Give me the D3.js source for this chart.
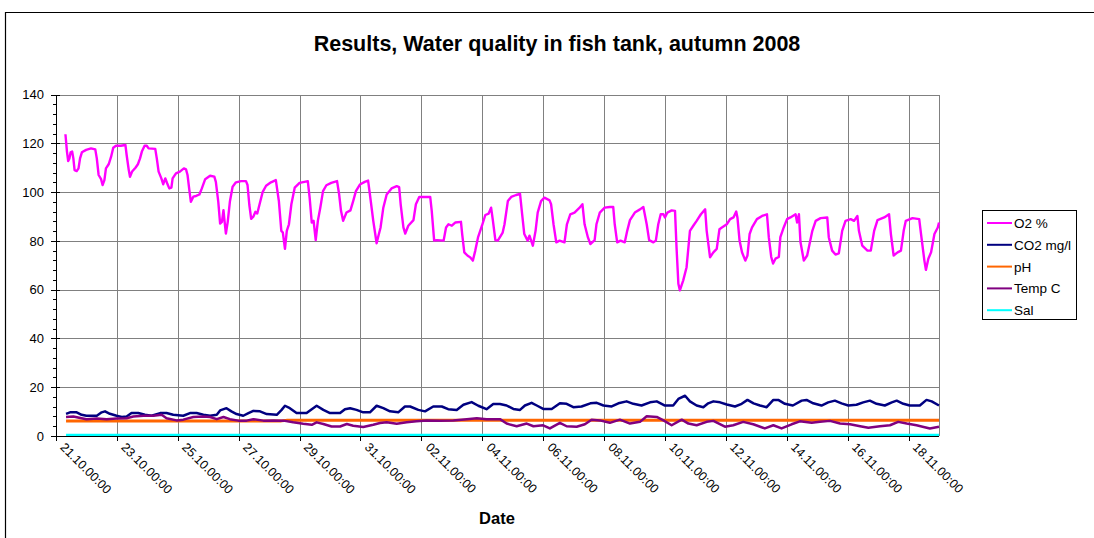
<!DOCTYPE html>
<html>
<head>
<meta charset="utf-8">
<script src="https://cdn.jsdelivr.net/npm/d3@7"></script>
<style>
  html, body { margin: 0; padding: 0; background: #fff; }
  svg { display: block; font-family: "Liberation Sans", Arial, sans-serif; }
</style>
</head>
<body>
<svg id="chart" width="1094" height="538"></svg>
<script>
// ---------- DATA ----------
const startDate = "2008-10-21T00:00:00Z";
const endDate = "2008-11-19T00:00:00Z";
const tickLabels = ["21.10.00:00","23.10.00:00","25.10.00:00","27.10.00:00","29.10.00:00","31.10.00:00",
  "02.11.00:00","04.11.00:00","06.11.00:00","08.11.00:00","10.11.00:00","12.11.00:00","14.11.00:00",
  "16.11.00:00","18.11.00:00"];
const tickDays = [0,2,4,6,8,10,12,14,16,18,20,22,24,26,28];
const yTicks = [0,20,40,60,80,100,120,140];
const seriesNames = ["O2 %","CO2 mg/l","pH","Temp C","Sal"];

// O2 % (days after 21.10 00:00, value)
const o2Days = [0.31,0.36,0.40,0.44,0.48,0.53,0.57,0.61,0.68,0.74,0.79,0.85,0.99,1.15,1.29,1.34,1.40,1.48,1.53,1.59,
  1.64,1.73,1.81,1.88,1.97,2.13,2.28,2.32,2.39,2.43,2.50,2.61,2.69,2.76,2.82,2.91,2.98,3.04,3.26,3.31,
  3.37,3.46,3.52,3.59,3.65,3.72,3.79,3.83,3.94,4.07,4.20,4.27,4.32,4.38,4.43,4.51,4.60,4.71,4.79,4.90,
  5.06,5.20,5.25,5.33,5.39,5.45,5.50,5.55,5.58,5.64,5.71,5.80,5.91,6.08,6.24,6.29,6.35,6.41,6.48,6.55,
  6.61,6.68,6.79,6.90,7.06,7.22,7.32,7.40,7.45,7.52,7.58,7.65,7.73,7.84,8.00,8.16,8.27,8.33,8.40,8.46,
  8.53,8.60,8.68,8.77,8.88,9.04,9.23,9.30,9.36,9.43,9.54,9.67,9.76,9.85,9.98,10.14,10.25,10.31,10.42,10.53,
  10.59,10.66,10.75,10.86,11.02,11.19,11.27,11.32,11.41,11.47,11.57,11.74,11.82,11.93,12.07,12.29,12.34,12.42,12.51,12.73,
  12.81,12.89,13.00,13.11,13.30,13.34,13.41,13.52,13.60,13.69,13.77,13.86,13.99,14.10,14.21,14.29,14.35,14.43,14.51,14.67,
  14.73,14.84,14.95,15.11,15.24,15.31,15.38,15.49,15.55,15.66,15.75,15.82,15.93,16.04,16.21,16.26,16.34,16.43,16.54,16.70,
  16.78,16.89,17.03,17.18,17.29,17.36,17.47,17.55,17.69,17.75,17.86,18.02,18.19,18.30,18.35,18.43,18.54,18.68,18.76,18.85,
  19.01,19.18,19.29,19.40,19.48,19.62,19.70,19.78,19.86,19.95,20.00,20.08,20.22,20.33,20.38,20.44,20.49,20.60,20.71,20.82,
  20.93,21.04,21.18,21.32,21.37,21.48,21.59,21.70,21.79,21.87,22.03,22.14,22.25,22.34,22.38,22.45,22.53,22.64,22.71,22.78,
  22.86,23.02,23.19,23.35,23.41,23.49,23.55,23.63,23.74,23.79,23.90,24.01,24.12,24.29,24.34,24.40,24.45,24.56,24.67,24.84,
  24.95,25.11,25.33,25.38,25.49,25.60,25.71,25.82,25.93,26.10,26.21,26.32,26.37,26.48,26.65,26.76,26.87,26.98,27.20,27.36,
  27.42,27.51,27.64,27.75,27.84,27.91,28.13,28.35,28.41,28.52,28.57,28.65,28.74,28.85,28.96,29.0];
const o2Values = [123.7,116.6,112.7,113.8,116.3,116.6,113.8,109,108.6,109.7,113.8,116.3,117.3,117.9,117.5,113.8,107,105.3,102.9,104.9,
  109.7,111.4,114.5,118.2,119,119,119.3,115.2,109,106.3,108.4,110,111.4,113.8,116.6,119,119,117.9,117.7,113.8,
  108.4,105.6,103.2,105.6,103.6,101.5,101.8,105.6,107.7,108.4,109.7,109.3,107,100.8,96,98.1,98.4,99,101.5,105.3,
  106.7,106.3,104.2,96,87.1,87.8,92.6,86.4,83,87.8,96,102.2,104,104.5,104.5,102.9,94.7,89,89.9,91.9,
  91.2,94.7,100.1,102.6,104,104.9,96.3,84.1,83.4,76.7,84.1,86.8,95,101.8,103.8,104.2,104.5,97.7,87.5,88.2,
  80.3,88.2,93.6,100.4,102.8,103.8,104.5,99,92.3,88.2,91.6,92.5,96.3,100.4,103.1,104.2,104.7,99,88.2,79,
  82.1,85.5,93.6,99,101.5,102.4,102,95,85.5,83,86.2,88.5,95,98,98,98,92.3,80.1,80.3,80.1,
  85.5,86.8,86.2,87.5,87.8,82.8,75.3,73.9,73.3,71.9,76,81.4,86.2,90.6,91.2,93.6,88.2,80.3,80.1,83.4,
  86.8,96.3,98,98.8,99.3,90.9,82.8,80.1,82.1,78,84.1,91.6,96.3,97.7,96.6,95,86.8,79.4,80.1,79.4,
  86.8,90.9,91.6,93.4,95,86.8,81.4,78.7,80.3,86.8,91.6,93.6,93.9,93.9,86.8,79.4,80.1,79.4,84.1,88.5,
  91.6,92.9,93.9,86.8,80.3,79.4,80.1,86.8,90.9,90.9,89.6,91.6,92.5,92.3,77.3,62.4,59.7,63.8,69.2,84.1,
  86.2,88.2,90.9,92.9,84.1,73.3,75.3,76.7,84.8,85.5,86.8,88.9,89.6,92,89.6,80.1,75.3,71.9,74,82.8,
  85.5,88.9,90.2,90.9,81.5,73.4,70.7,72.7,73.4,81.5,85.5,88.9,89.6,90.9,87.5,90.9,79.5,71.9,74,84.1,
  88.2,89.3,89.6,81.5,76,74.4,74.9,84.1,88.2,88.9,88.2,90.2,84.1,78,76,76,84.1,88.5,89.6,90.9,
  82.8,74,75.3,76,84.1,88.2,89.3,88.9,82.8,71.9,68.1,72.7,75.3,82.8,85.5,87.5];

// CO2 mg/l
const co2Days = [0.33,0.46,0.68,0.84,1.0,1.34,1.5,1.61,1.77,1.99,2.16,2.32,2.48,2.70,2.92,3.14,3.42,3.63,3.85,4.18,
  4.40,4.62,4.84,5.06,5.28,5.39,5.6,5.76,5.93,6.15,6.32,6.48,6.70,6.92,7.25,7.41,7.52,7.68,7.90,8.23,
  8.40,8.56,8.78,9.0,9.33,9.49,9.66,9.87,10.09,10.31,10.53,10.75,10.97,11.24,11.46,11.63,11.9,12.12,12.39,12.67,
  12.88,13.16,13.38,13.65,13.87,14.14,14.36,14.58,14.8,15.02,15.24,15.40,15.62,15.79,16.0,16.28,16.55,16.77,16.99,17.26,
  17.55,17.76,17.98,18.25,18.47,18.74,18.96,19.23,19.51,19.73,20.0,20.27,20.44,20.66,20.82,21.04,21.26,21.42,21.59,21.81,
  22.03,22.30,22.52,22.71,22.91,23.12,23.34,23.56,23.72,23.94,24.2,24.49,24.65,24.87,25.14,25.36,25.58,25.80,26.02,26.29,
  26.51,26.73,26.95,27.22,27.45,27.61,27.83,28.04,28.37,28.59,28.76,29.0];
const co2Values = [9.1,9.7,9.7,8.7,8.3,8.3,9.7,10.1,9.1,8.3,7.8,8,9.4,9.4,8.7,8.3,9.4,9.4,8.7,8.3,
  9.4,9.4,8.7,8.3,8.7,10.5,11.4,10.1,9,8.3,9.4,10.3,10.1,9,8.7,10.7,12.4,11.4,9.4,9.4,
  11,12.4,10.7,9.4,9.4,11,11.4,10.7,9.7,9.7,12.4,11.4,10.1,9.7,12.1,12.1,10.7,10.1,12.1,12.1,
  11,10.7,12.8,13.9,12.4,11,13.1,13.1,12.5,11.1,10.7,12.5,13.6,12.5,11.1,11.1,13.4,13.2,11.8,12.1,
  13.4,13.6,12.5,12.1,13.4,14.2,13.2,12.5,13.8,14.2,12.5,12.5,15.2,16.5,14.2,12.5,11.8,13.4,14.2,13.8,
  12.9,12.1,13.2,14.8,13.4,12.5,11.8,14.8,14.8,13.2,12.5,14.5,14.8,13.4,12.5,13.8,14.5,13.4,12.5,12.8,
  13.8,14.5,13.2,12.5,13.8,14.5,13.2,12.5,12.5,14.8,14.2,12.5];

// pH
const phDays = [0.33,7.4,7.6,29.0];
const phValues = [6.2,6.2,6.5,6.5];

// Temp C
const tempDays = [0.33,0.57,0.84,1.0,1.34,1.66,1.99,2.32,2.54,2.87,3.2,3.47,3.63,3.96,4.18,4.51,4.84,5.06,5.28,5.5,
  5.71,5.99,6.26,6.48,6.81,7.14,7.47,7.79,8.12,8.40,8.56,8.78,9.05,9.33,9.55,9.76,10.09,10.42,10.64,10.86,
  11.19,11.52,11.84,12.17,12.61,13.05,13.49,13.82,14.14,14.58,14.8,15.13,15.46,15.68,16.0,16.22,16.55,16.77,17.1,17.37,
  17.59,17.86,18.19,18.52,18.85,19.18,19.4,19.73,19.95,20.22,20.55,20.77,21.04,21.37,21.59,21.97,22.24,22.57,22.9,23.28,
  23.56,23.83,24.16,24.43,24.82,25.09,25.42,25.75,26.08,26.41,26.68,27.06,27.39,27.66,27.94,28.26,28.7,29.0];
const tempValues = [7.8,8,7.3,6.9,7.2,6.9,7.2,7.3,8,8.3,8.3,8.7,7.3,6.4,6.7,7.8,8,7.8,6.9,7.8,
  6.9,6.3,6.3,6.9,6.3,6.4,6.3,5.6,5,4.6,5.6,4.9,3.9,3.9,4.9,4.2,3.7,4.6,5.3,5.6,
  5,5.6,6,6.4,6.3,6.4,6.9,7.3,6.9,6.9,5.1,4,5.1,4,4.4,3.1,5.4,4,3.8,4.8,
  6.7,6.4,5.4,6.7,5.1,5.8,8.1,7.8,6.4,4.4,6.7,5.1,4.4,5.8,6.2,3.8,4.4,5.8,4.8,3.1,
  4.4,3.1,4.8,6,5.4,5.8,6.2,5.1,4.8,4,3.4,4,4.4,5.8,5.1,4.4,3.1,3.8];

// Sal
const salDays = [0.33,10,20,29.0];
const salValues = [0.3,0.3,0.3,0.3];

const seriesColors = ["#FF00FF","#000080","#FF6600","#800080","#00FFFF"];

// ---------- CHART ----------
const svg = d3.select("#chart");
const W = 1094, H = 538;
const plot = {left: 56, right: 939, top: 94.5, bottom: 436};

const t0 = new Date(startDate), t1 = new Date(endDate);
const dayToDate = d => new Date(t0.getTime() + d * 864e5);

const x = d3.scaleUtc().domain([t0, t1]).range([plot.left, plot.right]);
const y = d3.scaleLinear().domain([0, 140]).range([plot.bottom, plot.top]);

// outer chart border (cropped)
svg.append("path").attr("d", `M5.5,${H} V12.5 H${W}`).attr("fill", "none")
  .attr("stroke", "#000").attr("stroke-width", 1.2);

// title
svg.append("text").attr("x", 557).attr("y", 51).attr("text-anchor", "middle")
  .attr("font-size", 21.5).attr("font-weight", "bold").attr("fill", "#000")
  .text("Results, Water quality in fish tank, autumn 2008");

const tickDates = tickDays.map(dayToDate);

// gridlines
svg.append("g").attr("transform", `translate(0,${plot.top})`)
  .call(d3.axisTop(x).tickValues(tickDates.slice(1)).tickSize(-(plot.bottom - plot.top)).tickFormat(""))
  .call(g => g.select(".domain").remove())
  .call(g => g.selectAll("line").attr("stroke", "#808080").attr("stroke-width", 1).attr("shape-rendering", "crispEdges"));
svg.append("g").attr("transform", `translate(${plot.left},0)`)
  .call(d3.axisLeft(y).tickValues(yTicks.slice(1)).tickSize(-(plot.right - plot.left)).tickFormat(""))
  .call(g => g.select(".domain").remove())
  .call(g => g.selectAll("line").attr("stroke", "#808080").attr("stroke-width", 1).attr("shape-rendering", "crispEdges"));
// right border of plot
svg.append("line").attr("x1", plot.right).attr("x2", plot.right).attr("y1", plot.top).attr("y2", plot.bottom)
  .attr("stroke", "#808080").attr("shape-rendering", "crispEdges");

// series
const allSeries = [
  {days: o2Days, vals: o2Values, w: 2.4},
  {days: co2Days, vals: co2Values, w: 2.5},
  {days: phDays, vals: phValues, w: 3},
  {days: tempDays, vals: tempValues, w: 2.5},
  {days: salDays, vals: salValues, w: 3}
];
const line = d3.line().x(d => x(d[0])).y(d => y(d[1]));
allSeries.forEach((s, i) => {
  const pts = s.days.map((d, k) => [dayToDate(d), s.vals[k]]);
  svg.append("path").datum(pts).attr("d", line).attr("fill", "none")
    .attr("stroke", seriesColors[i]).attr("stroke-width", s.w).attr("stroke-linejoin", "round");
});

// y axis
const yAxisG = svg.append("g").attr("transform", `translate(${plot.left},0)`)
  .call(d3.axisLeft(y).tickValues(yTicks).tickSize(5).tickPadding(7));
yAxisG.select(".domain").attr("d", `M0,${plot.top}V${plot.bottom}`).attr("stroke", "#000").attr("shape-rendering", "crispEdges");
yAxisG.selectAll(".tick line").attr("x1", 4).attr("x2", -5).attr("stroke", "#000").attr("shape-rendering", "crispEdges");
yAxisG.selectAll(".tick text").attr("font-size", 13).attr("font-family", "Liberation Sans, Arial, sans-serif").attr("fill", "#000");
// y minor ticks
const yMinor = d3.range(0, 141, 4).filter(v => v % 20 !== 0);
svg.append("g").attr("transform", `translate(${plot.left},0)`)
  .call(d3.axisLeft(y).tickValues(yMinor).tickSize(3).tickFormat(""))
  .call(g => g.select(".domain").remove())
  .call(g => g.selectAll("line").attr("stroke", "#000").attr("shape-rendering", "crispEdges"));

// x axis
const xAxisG = svg.append("g").attr("transform", `translate(0,${plot.bottom})`)
  .call(d3.axisBottom(x).tickValues(tickDates).tickSize(5).tickFormat((d, i) => tickLabels[i]));
xAxisG.select(".domain").attr("d", `M${plot.left},0H${plot.right}`).attr("stroke", "#000").attr("shape-rendering", "crispEdges");
xAxisG.selectAll(".tick line").attr("stroke", "#000").attr("shape-rendering", "crispEdges");
xAxisG.selectAll(".tick text")
  .attr("font-size", 12.5).attr("font-family", "Liberation Sans, Arial, sans-serif").attr("fill", "#000")
  .attr("text-anchor", "start").attr("dy", null).attr("y", 0)
  .attr("transform", "translate(3,12) rotate(45)");

// x axis title
svg.append("text").attr("x", 497).attr("y", 524).attr("text-anchor", "middle")
  .attr("font-size", 16.5).attr("font-weight", "bold").attr("fill", "#000").text("Date");

// legend
const lg = svg.append("g");
lg.append("rect").attr("x", 982.5).attr("y", 210.5).attr("width", 94).attr("height", 109)
  .attr("fill", "#fff").attr("stroke", "#000").attr("stroke-width", 1);
seriesNames.forEach((name, i) => {
  const cy = 223 + i * 21.8;
  lg.append("line").attr("x1", 987).attr("x2", 1012).attr("y1", cy).attr("y2", cy)
    .attr("stroke", seriesColors[i]).attr("stroke-width", 2);
  lg.append("text").attr("x", 1014).attr("y", cy + 5).attr("font-size", 13.5).attr("fill", "#000").text(name);
});
</script>
</body>
</html>
